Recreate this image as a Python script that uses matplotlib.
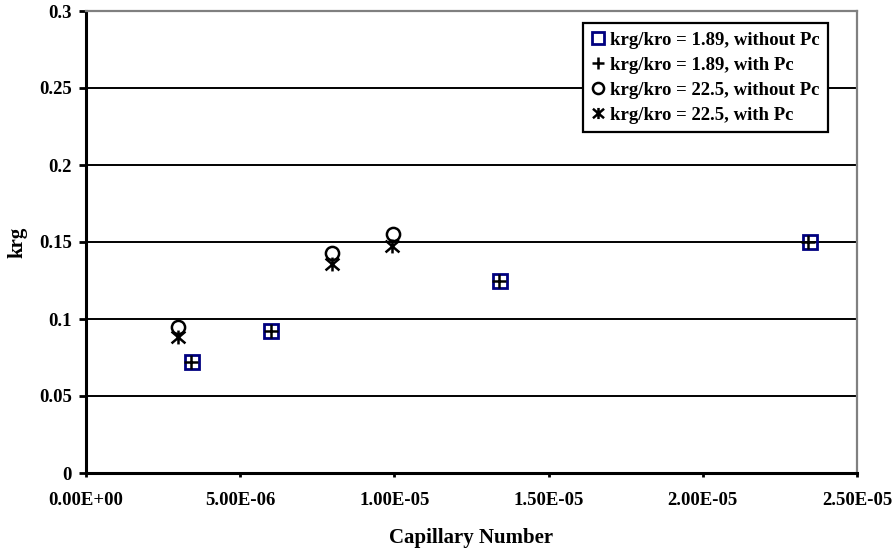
import matplotlib
matplotlib.use("Agg")
import matplotlib.pyplot as plt
from matplotlib.path import Path
from matplotlib.ticker import FuncFormatter

plt.rcParams['font.family'] = ['Liberation Serif', 'DejaVu Serif']
plt.rcParams['font.weight'] = 'bold'

# Data
x_sq = [3.45e-6, 6.0e-6, 1.342e-5, 2.348e-5]
y_sq = [0.072, 0.0924, 0.1247, 0.150]
x_plus = [3.40e-6, 6.0e-6, 1.340e-5, 2.340e-5]
y_plus = [0.072, 0.0924, 0.1247, 0.150]
x_circ = [2.99e-6, 7.97e-6, 9.97e-6]
y_circ = [0.095, 0.1427, 0.155]
x_ast = [2.99e-6, 7.97e-6, 9.91e-6]
y_ast = [0.0881, 0.1355, 0.1476]

labels = ["krg/kro = 1.89, without Pc", "krg/kro = 1.89, with Pc",
          "krg/kro = 22.5, without Pc", "krg/kro = 22.5, with Pc"]
xticks = [0, 5e-6, 1e-5, 1.5e-5, 2e-5, 2.5e-5]
yticks = [0, 0.05, 0.1, 0.15, 0.2, 0.25, 0.3]

# asterisk marker: x plus vertical bar
ast_path = Path([(-1, -0.85), (1, 0.85), (-1, 0.85), (1, -0.85), (0, -1.0), (0, 1.0)],
                [Path.MOVETO, Path.LINETO, Path.MOVETO, Path.LINETO, Path.MOVETO, Path.LINETO])

fig = plt.figure(figsize=(8.93, 5.48), dpi=100)
ax = fig.add_axes([86/893, 1 - 473/548, (857-86)/893, (473-11)/548])

ax.plot(x_sq, y_sq, linestyle='none', marker='s', markersize=9.5, markerfacecolor='none',
        markeredgecolor='#000080', markeredgewidth=2, label=labels[0], zorder=3)
ax.plot(x_plus, y_plus, linestyle='none', marker='+', markersize=10,
        markeredgecolor='black', markeredgewidth=1.8, label=labels[1], zorder=4)
ax.plot(x_circ, y_circ, linestyle='none', marker='o', markersize=9.5, markerfacecolor='none',
        markeredgecolor='black', markeredgewidth=1.8, label=labels[2], zorder=3)
ax.plot(x_ast, y_ast, linestyle='none', marker=ast_path, markersize=10,
        markeredgecolor='black', markeredgewidth=1.8, label=labels[3], zorder=3)

ax.set_xlim(0, 2.5e-5)
ax.set_ylim(0, 0.3)
ax.set_xticks(xticks)
ax.set_yticks(yticks)
ax.xaxis.set_major_formatter(FuncFormatter(lambda v, p: "%.2E" % v))
ax.yaxis.set_major_formatter(FuncFormatter(lambda v, p: ("%g" % v)))
ax.yaxis.grid(True, color='black', linewidth=1.4)
ax.set_axisbelow(True)

for s in ['left', 'bottom']:
    ax.spines[s].set_color('black')
    ax.spines[s].set_linewidth(2.2)
for s in ['top', 'right']:
    ax.spines[s].set_color('#808080')
    ax.spines[s].set_linewidth(1.6)

ax.tick_params(axis='y', direction='out', length=5, width=2, labelsize=13.5, pad=5)
ax.tick_params(axis='x', direction='out', length=3, width=2, labelsize=13.5, pad=11)
for t in ax.get_xticklabels() + ax.get_yticklabels():
    t.set_fontweight('bold')

ax.set_xlabel("Capillary Number", fontsize=15, fontweight='bold')
ax.set_ylabel("krg", fontsize=15, fontweight='bold')
ax.xaxis.set_label_coords(0.5, -0.118)
ax.yaxis.set_label_coords(-0.076, 0.5)

leg = ax.legend(loc='upper left', bbox_to_anchor=(0.645, 0.974), frameon=True, fancybox=False,
                edgecolor='black', framealpha=1, fontsize=13.5, handlelength=0.7,
                handletextpad=0.25, borderpad=0.45, labelspacing=0.42, borderaxespad=0)
leg.get_frame().set_linewidth(1.6)
for h in leg.legend_handles:
    h.set_markersize(8)
for t in leg.get_texts():
    t.set_fontweight('bold')

fig.savefig("out.png", dpi=100)
